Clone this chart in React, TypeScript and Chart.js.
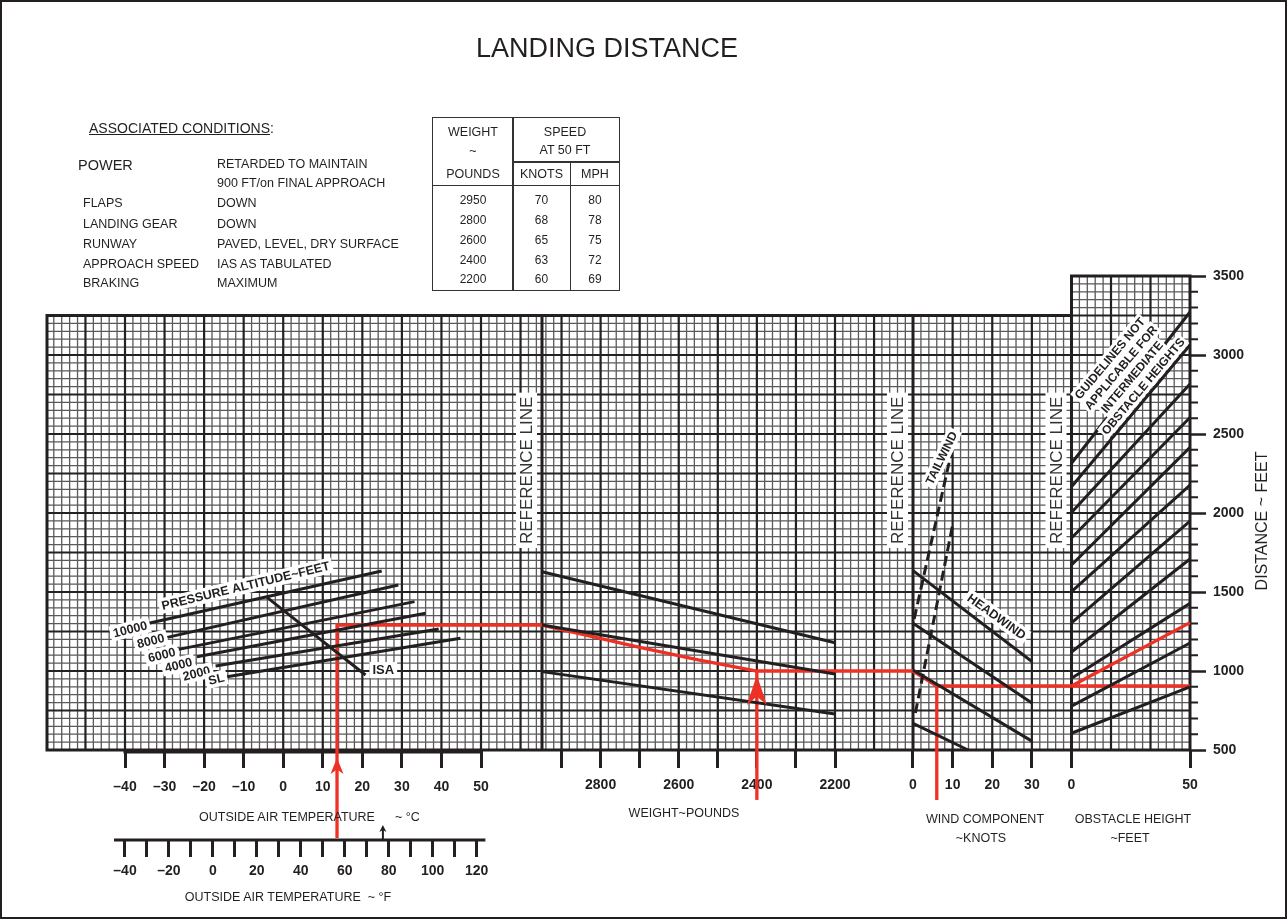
import React, { useEffect, useRef } from 'react';
import { Chart, registerables } from 'chart.js';

Chart.register(...registerables);

const INK = '#231f20';
const RED = '#ee3124';
const FONT = "'Liberation Sans', Arial, Helvetica, sans-serif";

// ---------------- data ----------------
const celsiusTicks = [-40, -30, -20, -10, 0, 10, 20, 30, 40, 50];
const fahrenheitTicks = [-40, -30, -20, -10, 0, 10, 20, 30, 40, 50, 60, 70, 80, 90, 100, 110, 120];
const fahrenheitLabels = [-40, -20, 0, 20, 40, 60, 80, 100, 120];
const weightTicks = [2900, 2800, 2700, 2600, 2500, 2400, 2300, 2200];
const weightLabels = [2800, 2600, 2400, 2200];
const windTicks = [0, 10, 20, 30];
const obstacleTicks = [0, 50];
const distanceStep = 500;
const distanceRange = [500, 3500];

// panel ranges (value at panel edges)
const tempPanelC = [-60, 65.4];
const weightPanelLb = [2950, 2000];
const windPanelKt = [0, 40];
const obstaclePanelFt = [0, 50];
const mainGridTopFt = 3250;

// pressure altitude guide lines (°C, feet)
const altitudeNames = ['10000', '8000', '6000', '4000', '2000', 'SL'];
const altitudeStartC = [-34, -29.3, -26.4, -21.8, -17.1, -14.2];
const altitudeStartFt = [1302, 1213, 1137, 1090, 1032, 964];
const altitudeEndC = [24.9, 29.1, 33.2, 36.0, 39.3, 44.8];
const altitudeEndFt = [1633, 1544, 1439, 1365, 1266, 1207];
const isaC = [-4.1, 20.8];
const isaFt = [1466, 975];

// weight guide lines
const weightGuideLb = [2950, 2200];
const weightGuideFt = [
  [1628, 1179],
  [1291, 981],
  [996, 728],
];

// wind component guide lines
const headwindKt = [
  [0, 30],
  [0, 30],
  [0, 30],
  [0, 13.9],
];
const headwindFt = [
  [1635, 1060],
  [1302, 798],
  [1006, 556],
  [669, 500],
];
const tailwindKt = [
  [0.3, 9.7],
  [0.6, 10.1],
];
const tailwindFt = [
  [1330, 2386],
  [734, 1937],
];

// obstacle height guide lines
const obstacleGuideX = [0, 50];
const obstacleGuideFt = [
  [606, 900],
  [778, 1177],
  [954, 1428],
  [1120, 1709],
  [1304, 1949],
  [1502, 2177],
  [1671, 2415],
  [1842, 2604],
  [2003, 2816],
  [2166, 3063],
  [2315, 3272],
];

// worked example (red)
const exTempC = [13.6, 13.6, 65.4];
const exTempFt = [-57, 1291, 1291];
const exWeightLb = [2950, 2700, 2550, 2400, 2000];
const exWeightFt = [1291, 1150, 1070, 1000, 1000];
const exWeightUpLb = [2400, 2400];
const exWeightUpFt = [184, 1000];
const exWindKt = [0, 6, 40];
const exWindFt = [1000, 905, 905];
const exWindDownKt = [6, 6];
const exWindDownFt = [905, 184];
const exObstacleX = [0, 50];
const exObstacleFt = [905, 1306];
const exObstacleFlatFt = [905, 905];
const isaArrowC = 25.2;

// table
const tableWeights = [2950, 2800, 2600, 2400, 2200];
const tableKnots = [70, 68, 65, 63, 60];
const tableMph = [80, 78, 75, 72, 69];

// associated conditions
const conditionNames = ['FLAPS', 'LANDING GEAR', 'RUNWAY', 'APPROACH SPEED', 'BRAKING'];
const conditionValues = ['DOWN', 'DOWN', 'PAVED, LEVEL, DRY SURFACE', 'IAS AS TABULATED', 'MAXIMUM'];

// ---------------- layout ----------------
const W = 1287;
const H = 919;
const AREA = { left: 47, right: 1190, top: 276, bottom: 750 };

function span(v1: number, p1: number, v2: number, p2: number) {
  const k = (v2 - v1) / (p2 - p1);
  return [v1 + (AREA.left - p1) * k, v1 + (AREA.right - p1) * k];
}
const tSpan = span(-40, 125, 50, 481);
const wSpan = span(2950, 542, 2200, 835);
const kSpan = span(0, 913, 40, 1071.5);
const oSpan = span(0, 1071.5, 50, 1190);
const cToF = (c: number) => (c * 9) / 5 + 32;
const ftAtPx = (p: number) =>
  distanceRange[0] + ((AREA.bottom - p) * (distanceRange[1] - distanceRange[0])) / (AREA.bottom - AREA.top);
const F_AXIS_FT = ftAtPx(840);

const pts = (xs: number[], ys: number[]) => xs.map((x, i) => ({ x, y: ys[i] }));
const dash = (v: number) => (v < 0 ? '\u2013' + Math.abs(v) : String(v));

function line(data: any[], xAxisID: string, color = INK, width = 3, extra: any = {}) {
  return {
    data,
    xAxisID,
    yAxisID: 'y',
    borderColor: color,
    borderWidth: width,
    pointRadius: 0,
    fill: false,
    tension: 0,
    clip: false,
    borderJoinStyle: 'miter',
    borderCapStyle: 'butt',
    ...extra,
  };
}

function buildDatasets() {
  const ds: any[] = [];
  altitudeNames.forEach((_, i) =>
    ds.push(line(pts([altitudeStartC[i], altitudeEndC[i]], [altitudeStartFt[i], altitudeEndFt[i]]), 'xT'))
  );
  ds.push(line(pts(isaC, isaFt), 'xT'));
  weightGuideFt.forEach((f) => ds.push(line(pts(weightGuideLb, f), 'xW')));
  headwindKt.forEach((k, i) => ds.push(line(pts(k, headwindFt[i]), 'xK')));
  tailwindKt.forEach((k, i) => ds.push(line(pts(k, tailwindFt[i]), 'xK', INK, 3, { borderDash: [10, 5] })));
  obstacleGuideFt.forEach((f) => ds.push(line(pts(obstacleGuideX, f), 'xO')));
  // example
  ds.push(line(pts(exTempC, exTempFt), 'xT', RED, 3.3));
  ds.push(line(pts(exWeightLb, exWeightFt), 'xW', RED, 3.3));
  ds.push(line(pts(exWeightUpLb, exWeightUpFt), 'xW', RED, 3.3));
  ds.push(line(pts(exWindKt, exWindFt), 'xK', RED, 3.3));
  ds.push(line(pts(exWindDownKt, exWindDownFt), 'xK', RED, 3.3));
  ds.push(line(pts(exObstacleX, exObstacleFt), 'xO', RED, 3.3));
  ds.push(line(pts(exObstacleX, exObstacleFlatFt), 'xO', RED, 3.3));
  return ds;
}

// ---------------- annotations ----------------
type Lab = { lines: string[]; axis: string; x: number; y: number; rot: number; size: number; bold: boolean; dx?: number; gap?: number; color?: string; pad?: number };
const labels: Lab[] = [
  { lines: ['PRESSURE ALTITUDE~FEET'], axis: 'xT', x: -9.5, y: 1539, rot: -13.6, size: 12.5, bold: true },
  { lines: ['10000'], axis: 'xT', x: -38.7, y: 1264, rot: -14, size: 12.5, bold: true },
  { lines: ['8000'], axis: 'xT', x: -33.5, y: 1190, rot: -14, size: 12.5, bold: true },
  { lines: ['6000'], axis: 'xT', x: -30.7, y: 1101, rot: -14, size: 12.5, bold: true },
  { lines: ['4000'], axis: 'xT', x: -26.5, y: 1038, rot: -14, size: 12.5, bold: true },
  { lines: ['2000'], axis: 'xT', x: -21.9, y: 985, rot: -14, size: 12.5, bold: true },
  { lines: ['SL'], axis: 'xT', x: -16.9, y: 949, rot: -14, size: 12.5, bold: true },
  { lines: ['ISA'], axis: 'xT', x: 25.3, y: 1006, rot: 0, size: 13, bold: true },
  { lines: ['TAILWIND'], axis: 'xK', x: 7.2, y: 2348, rot: -64, size: 12, bold: true },
  { lines: ['HEADWIND'], axis: 'xK', x: 21.1, y: 1344, rot: 35.6, size: 12.5, bold: true },
  {
    lines: ['GUIDELINES NOT', 'APPLICABLE FOR', 'INTERMEDIATE', 'OBSTACLE HEIGHTS'],
    axis: 'xO', x: 23.2, y: 2890, rot: -50, size: 12, bold: true, gap: 14.5, pad: 2,
  },
  { lines: ['REFERENCE LINE'], axis: 'xW', x: 2950, dx: -15.5, y: 2270, rot: -90, size: 17, bold: false, color: '#333', pad: 4 },
  { lines: ['REFERENCE LINE'], axis: 'xK', x: 0, dx: -15.5, y: 2270, rot: -90, size: 17, bold: false, color: '#333', pad: 4 },
  { lines: ['REFERENCE LINE'], axis: 'xO', x: 0, dx: -15.5, y: 2270, rot: -90, size: 17, bold: false, color: '#333', pad: 4 },
];

function drawBoxed(ctx: CanvasRenderingContext2D, lab: Lab, x: number, y: number) {
  const { lines, rot, size, bold } = lab;
  const gap = lab.gap || size * 1.2;
  const pad = lab.pad ?? 3;
  ctx.save();
  ctx.translate(x, y);
  ctx.rotate((rot * Math.PI) / 180);
  ctx.font = `${bold ? 'bold ' : ''}${size}px ${FONT}`;
  ctx.textAlign = 'center';
  ctx.textBaseline = 'middle';
  const n = lines.length;
  lines.forEach((t, i) => {
    const ly = (i - (n - 1) / 2) * gap;
    const w = ctx.measureText(t).width;
    ctx.fillStyle = '#fff';
    ctx.fillRect(-w / 2 - pad, ly - size * 0.62, w + 2 * pad, size * 1.24);
  });
  lines.forEach((t, i) => {
    const ly = (i - (n - 1) / 2) * gap;
    ctx.fillStyle = lab.color || INK;
    ctx.fillText(t, 0, ly + size * 0.05);
  });
  ctx.restore();
}

function arrowUp(ctx: CanvasRenderingContext2D, x: number, tip: number, h: number, hw: number, color: string) {
  ctx.beginPath();
  ctx.moveTo(x, tip);
  ctx.lineTo(x + hw, tip + h);
  ctx.lineTo(x, tip + h * 0.72);
  ctx.lineTo(x - hw, tip + h);
  ctx.closePath();
  ctx.fillStyle = color;
  ctx.fill();
}

const gridPlugin = {
  id: 'nomogramGrid',
  beforeDatasetsDraw(chart: any) {
    const { ctx, chartArea: a, scales } = chart;
    const { xT, xW, xK, xO, y } = scales;
    const pW = xW.getPixelForValue(weightPanelLb[0]);
    const pK = xK.getPixelForValue(windPanelKt[0]);
    const pO = xO.getPixelForValue(obstaclePanelFt[0]);
    const yBot = y.getPixelForValue(distanceRange[0]);
    const yTopMain = y.getPixelForValue(mainGridTopFt);
    const yTopObs = y.getPixelForValue(distanceRange[1]);
    const seg = (x1: number, y1: number, x2: number, y2: number) => {
      ctx.moveTo(x1, y1);
      ctx.lineTo(x2, y2);
    };
    const stroke = (w: number, c: string, fn: () => void) => {
      ctx.beginPath();
      fn();
      ctx.lineWidth = w;
      ctx.strokeStyle = c;
      ctx.stroke();
    };
    const verts = (minor: boolean) => {
      for (let v = tempPanelC[0] + 2; v < tempPanelC[1]; v += 2) {
        if ((v % 10 === 0) === minor) continue;
        const p = xT.getPixelForValue(v);
        if (p > a.left + 1 && p < pW - 2) seg(p, yTopMain, p, yBot);
      }
      for (let v = weightPanelLb[0] - 10; v > weightPanelLb[1]; v -= 20) {
        if ((v % 100 === 0) === minor) continue;
        const p = xW.getPixelForValue(v);
        if (p > pW + 2) seg(p, yTopMain, p, yBot);
      }
      for (let v = 2; v < windPanelKt[1]; v += 2) {
        if ((v % 10 === 0) === minor) continue;
        const p = xK.getPixelForValue(v);
        seg(p, yTopMain, p, yBot);
      }
      for (let i = 1; i < 15; i++) {
        if ((i % 5 === 0) === minor) continue;
        const p = xO.getPixelForValue((i * obstaclePanelFt[1]) / 15);
        seg(p, yTopObs, p, yBot);
      }
    };
    const hors = (minor: boolean) => {
      for (let f = distanceRange[0] + 50; f < distanceRange[1]; f += 50) {
        if ((f % 250 === 0) === minor) continue;
        const p = y.getPixelForValue(f);
        if (f < mainGridTopFt) seg(a.left, p, pO, p);
        seg(pO, p, a.right, p);
      }
    };
    ctx.save();
    ctx.lineCap = 'butt';
    stroke(1.3, '#5a5a5a', () => {
      verts(true);
      hors(true);
    });
    stroke(2.2, '#222', () => {
      verts(false);
      hors(false);
    });
    stroke(3, INK, () => {
      seg(a.left, yTopMain, pO, yTopMain);
      seg(pO - 1.5, yTopObs, a.right + 1.5, yTopObs);
      seg(a.left - 1.5, yBot, a.right + 1.5, yBot);
      seg(a.left, yTopMain - 1.5, a.left, yBot);
      seg(pW, yTopMain, pW, yBot);
      seg(pK, yTopMain, pK, yBot);
      seg(pO, yTopObs, pO, yBot);
      seg(a.right, yTopObs, a.right, yBot);
    });
    // minor distance ticks on the right
    stroke(2, INK, () => {
      for (let f = distanceRange[0] + 100; f < distanceRange[1]; f += 100) {
        if (f % distanceStep === 0) continue;
        const p = y.getPixelForValue(f);
        seg(a.right, p, a.right + 8, p);
      }
    });
    // °C baseline and °F axis line
    const yb = yBot + 2;
    stroke(3, INK, () => {
      seg(xT.getPixelForValue(celsiusTicks[0]) - 1.5, yb, xT.getPixelForValue(celsiusTicks[celsiusTicks.length - 1]) + 1.5, yb);
      const yF = y.getPixelForValue(F_AXIS_FT);
      const xF = scales.xF;
      seg(xF.getPixelForValue(-45), yF, xF.getPixelForValue(124), yF);
    });
    ctx.restore();
  },
  afterDatasetsDraw(chart: any) {
    const { ctx, scales } = chart;
    const { xT, xW, y } = scales;
    ctx.save();
    labels.forEach((lab) => {
      const px = scales[lab.axis].getPixelForValue(lab.x) + (lab.dx || 0);
      const py = y.getPixelForValue(lab.y);
      drawBoxed(ctx, lab, px, py);
    });
    // red arrowheads
    arrowUp(ctx, xT.getPixelForValue(exTempC[0]), y.getPixelForValue(distanceRange[0]) + 8, 16, 6.5, RED);
    arrowUp(ctx, xW.getPixelForValue(exWeightUpLb[0]), y.getPixelForValue(exWeightUpFt[1]) + 4, 30, 10, RED);
    // small black arrow above °F scale
    const yF = y.getPixelForValue(F_AXIS_FT);
    const xa = xT.getPixelForValue(isaArrowC);
    ctx.beginPath();
    ctx.moveTo(xa, yF - 1);
    ctx.lineTo(xa, yF - 10);
    ctx.lineWidth = 2;
    ctx.strokeStyle = INK;
    ctx.stroke();
    arrowUp(ctx, xa, yF - 15, 7, 3.5, INK);
    ctx.restore();
  },
};

const tickFont = { family: FONT, size: 14, weight: 'bold' as const };

function xAxis(min: number, max: number, ticks: number[], cb: (v: number) => string, extra: any = {}) {
  const pad = extra.pad ?? 9;
  const tl = extra.tl ?? 18;
  const at = extra.at ?? distanceRange[0];
  return {
    type: 'linear',
    axis: 'x',
    position: { y: at },
    min,
    max,
    bounds: 'data',
    reverse: !!extra.reverse,
    afterBuildTicks: (s: any) => {
      s.ticks = ticks.map((v) => ({ value: v }));
    },
    afterFit: (s: any) => {
      s.height = 0;
    },
    ticks: { autoSkip: false, maxRotation: 0, minRotation: 0, font: tickFont, color: INK, padding: pad, callback: (v: any) => cb(Number(v)) },
    grid: { drawOnChartArea: false, drawTicks: true, tickLength: tl, tickWidth: 3, tickColor: INK },
    border: { display: false },
  };
}

function buildConfig(): any {
  return {
    type: 'line',
    data: { datasets: buildDatasets() },
    options: {
      animation: false,
      responsive: false,
      maintainAspectRatio: false,
      devicePixelRatio: 1,
      events: [],
      layout: { padding: { left: AREA.left, top: AREA.top, right: 0, bottom: H - AREA.bottom } },
      plugins: { legend: { display: false }, tooltip: { enabled: false }, title: { display: false } },
      scales: {
        y: {
          type: 'linear',
          position: 'right',
          min: distanceRange[0],
          max: distanceRange[1],
          bounds: 'data',
          afterFit: (s: any) => {
            s.width = W - AREA.right;
          },
          ticks: { stepSize: distanceStep, font: tickFont, color: INK, padding: 7, callback: (v: any) => String(v) },
          grid: { drawOnChartArea: false, drawTicks: true, tickLength: 16, tickWidth: 2.5, tickColor: INK },
          border: { display: false },
        },
        xT: xAxis(tSpan[0], tSpan[1], celsiusTicks, dash, { pad: 11 }),
        xF: xAxis(cToF(tSpan[0]), cToF(tSpan[1]), fahrenheitTicks, (v) => (fahrenheitLabels.includes(v) ? dash(v) : ''), {
          at: F_AXIS_FT,
          pad: 6,
          tl: 17,
        }),
        xW: xAxis(wSpan[1], wSpan[0], weightTicks, (v) => (weightLabels.includes(v) ? String(v) : ''), { reverse: true }),
        xK: xAxis(kSpan[0], kSpan[1], windTicks, (v) => String(v)),
        xO: xAxis(oSpan[0], oSpan[1], obstacleTicks, (v) => String(v)),
      },
    },
    plugins: [gridPlugin],
  };
}

// ---------------- HTML text helpers ----------------
type TP = { x: number; y: number; size?: number; align?: 'left' | 'center' | 'right'; weight?: number; rotate?: number; children: React.ReactNode };
function Txt({ x, y, size = 12.5, align = 'left', weight = 400, rotate = 0, children }: TP) {
  const tx = align === 'center' ? '-50%' : align === 'right' ? '-100%' : '0%';
  return (
    <div
      style={{
        position: 'absolute',
        left: x,
        top: y,
        transform: `translate(${tx}, -50%)${rotate ? ` rotate(${rotate}deg)` : ''}`,
        fontFamily: FONT,
        fontSize: size,
        fontWeight: weight,
        lineHeight: 1,
        color: INK,
        whiteSpace: 'nowrap',
      }}
    >
      {children}
    </div>
  );
}

function Rule({ x, y, w, h }: { x: number; y: number; w: number; h: number }) {
  return <div style={{ position: 'absolute', left: x, top: y, width: w, height: h, background: '#333' }} />;
}

function SpeedTable() {
  const rowY = [200, 219.5, 239.5, 259.5, 279];
  return (
    <>
      <div style={{ position: 'absolute', left: 432, top: 117, width: 188, height: 174, border: '1.5px solid #333', boxSizing: 'border-box' }} />
      <Rule x={512} y={117} w={1.5} h={174} />
      <Rule x={569.5} y={161} w={1.5} h={130} />
      <Rule x={512} y={161} w={108} h={1.5} />
      <Rule x={432} y={184.5} w={188} h={1.5} />
      <Txt x={473} y={132} align="center">WEIGHT</Txt>
      <Txt x={473} y={151} align="center">~</Txt>
      <Txt x={473} y={174} align="center">POUNDS</Txt>
      <Txt x={565} y={132} align="center">SPEED</Txt>
      <Txt x={565} y={150} align="center">AT 50 FT</Txt>
      <Txt x={541.5} y={174} align="center">KNOTS</Txt>
      <Txt x={595} y={174} align="center">MPH</Txt>
      {tableWeights.map((w, i) => (
        <React.Fragment key={w}>
          <Txt x={473} y={rowY[i]} size={12} align="center">{w}</Txt>
          <Txt x={541.5} y={rowY[i]} size={12} align="center">{tableKnots[i]}</Txt>
          <Txt x={595} y={rowY[i]} size={12} align="center">{tableMph[i]}</Txt>
        </React.Fragment>
      ))}
    </>
  );
}

function Conditions() {
  const rowY = [203, 223.5, 244, 263.5, 283];
  return (
    <>
      <Txt x={89} y={128} size={14}>
        <span style={{ textDecoration: 'underline' }}>ASSOCIATED CONDITIONS</span>:
      </Txt>
      <Txt x={78} y={165} size={14.5}>POWER</Txt>
      <Txt x={217} y={163.5} size={12.5}>RETARDED TO MAINTAIN</Txt>
      <Txt x={217} y={183} size={12.5}>900 FT/on FINAL APPROACH</Txt>
      {conditionNames.map((n, i) => (
        <React.Fragment key={n}>
          <Txt x={83} y={rowY[i]} size={12.5}>{n}</Txt>
          <Txt x={217} y={rowY[i]} size={12.5}>{conditionValues[i]}</Txt>
        </React.Fragment>
      ))}
    </>
  );
}

export default function App() {
  const ref = useRef<HTMLCanvasElement>(null);
  useEffect(() => {
    const canvas = ref.current;
    if (!canvas) return;
    const chart = new Chart(canvas, buildConfig());
    return () => chart.destroy();
  }, []);
  return (
    <div style={{ position: 'absolute', left: 0, top: 0, width: W, height: H, background: '#fff', overflow: 'hidden' }}>
      <canvas ref={ref} width={W} height={H} style={{ position: 'absolute', left: 0, top: 0, width: W, height: H }} />
      <Txt x={607} y={48} size={27} align="center">LANDING DISTANCE</Txt>
      <Conditions />
      <SpeedTable />
      <Txt x={199} y={817} size={12.5}>OUTSIDE AIR TEMPERATURE</Txt>
      <Txt x={395} y={817} size={12.5}>~ °C</Txt>
      <Txt x={684} y={813} size={12.5} align="center">WEIGHT~POUNDS</Txt>
      <Txt x={985} y={819} size={12.5} align="center">WIND COMPONENT</Txt>
      <Txt x={981} y={838} size={12.5} align="center">~KNOTS</Txt>
      <Txt x={1133} y={819} size={12.5} align="center">OBSTACLE HEIGHT</Txt>
      <Txt x={1130} y={838} size={12.5} align="center">~FEET</Txt>
      <Txt x={288} y={897} size={12.5} align="center">OUTSIDE AIR TEMPERATURE&nbsp;&nbsp;~ °F</Txt>
      <Txt x={1262} y={521} size={16} align="center" rotate={-90}>DISTANCE ~ FEET</Txt>
      <div style={{ position: 'absolute', left: 0, top: 0, width: W, height: H, boxSizing: 'border-box', border: '2px solid #231f20', pointerEvents: 'none' }} />
    </div>
  );
}
